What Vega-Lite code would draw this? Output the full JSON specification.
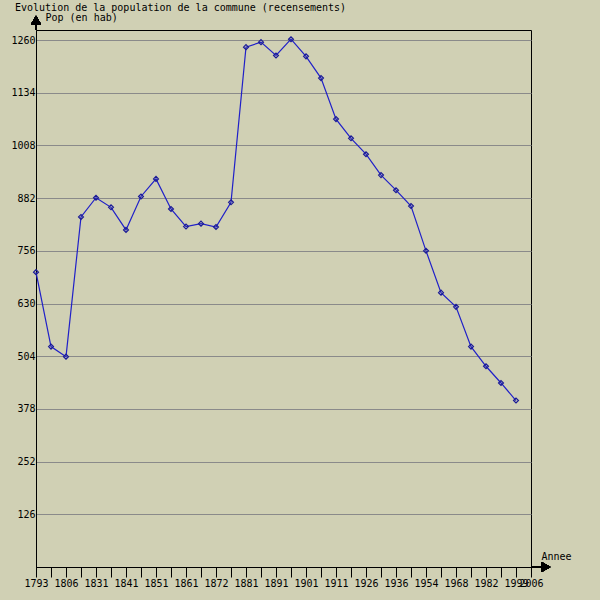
{
  "$schema": "https://vega.github.io/schema/vega-lite/v6.json",
  "autosize": {"type": "none"},
  "padding": {"left": 36, "top": 30, "right": 69, "bottom": 33},
  "width": 495,
  "height": 537,
  "background": "#D0D0B4",
  "title": {
    "text": "Evolution de la population de la commune (recensements)",
    "anchor": "start",
    "frame": "group",
    "dx": -21,
    "dy": 3,
    "offset": 2,
    "font": "DejaVu Sans Mono",
    "fontSize": 10,
    "fontWeight": "normal",
    "color": "#000000"
  },
  "data": {
    "values": [
      {"year": 1793, "pop": 705},
      {"year": 1800, "pop": 527},
      {"year": 1806, "pop": 503},
      {"year": 1821, "pop": 837},
      {"year": 1831, "pop": 883},
      {"year": 1836, "pop": 860},
      {"year": 1841, "pop": 806},
      {"year": 1846, "pop": 886},
      {"year": 1851, "pop": 928},
      {"year": 1856, "pop": 856},
      {"year": 1861, "pop": 814},
      {"year": 1866, "pop": 821},
      {"year": 1872, "pop": 813},
      {"year": 1876, "pop": 872},
      {"year": 1881, "pop": 1243},
      {"year": 1886, "pop": 1255},
      {"year": 1891, "pop": 1223},
      {"year": 1896, "pop": 1262},
      {"year": 1901, "pop": 1221},
      {"year": 1906, "pop": 1169},
      {"year": 1911, "pop": 1071},
      {"year": 1921, "pop": 1025},
      {"year": 1926, "pop": 987},
      {"year": 1931, "pop": 937},
      {"year": 1936, "pop": 901},
      {"year": 1946, "pop": 863},
      {"year": 1954, "pop": 756},
      {"year": 1962, "pop": 656},
      {"year": 1968, "pop": 622},
      {"year": 1975, "pop": 527},
      {"year": 1982, "pop": 480},
      {"year": 1990, "pop": 440},
      {"year": 1999, "pop": 398}
    ]
  },
  "layer": [
    {
      "mark": {
        "type": "line",
        "color": "#2020C8",
        "strokeWidth": 1.2,
        "point": {"shape": "diamond", "filled": false, "size": 24, "color": "#1A1A96", "strokeWidth": 1.2}
      },
      "encoding": {
        "x": {
          "field": "year",
          "type": "ordinal",
          "scale": {
            "type": "point",
            "padding": 0,
            "domain": [1793, 1800, 1806, 1821, 1831, 1836, 1841, 1846, 1851, 1856, 1861, 1866, 1872, 1876, 1881, 1886, 1891, 1896, 1901, 1906, 1911, 1921, 1926, 1931, 1936, 1946, 1954, 1962, 1968, 1975, 1982, 1990, 1999, 2006]
          },
          "axis": {
            "title": "Annee",
            "titleX": 505,
            "titleY": -11,
            "titleAlign": "left",
            "titleBaseline": "middle",
            "titleAngle": 0,
            "labelAngle": 0,
            "labelOverlap": false,
            "labelExpr": "indexof(['1793','1806','1831','1841','1851','1861','1872','1881','1891','1901','1911','1926','1936','1954','1968','1982','1999','2006'], datum.label) >= 0 ? datum.label : ''",
            "tickSize": 10,
            "labelPadding": 1,
            "grid": false
          }
        },
        "y": {
          "field": "pop",
          "type": "quantitative",
          "scale": {"domain": [0, 1284], "nice": false},
          "axis": {
            "title": "Pop (en hab)",
            "format": "d",
            "titleAngle": 0,
            "titleX": 9,
            "titleY": -13,
            "titleAlign": "left",
            "titleBaseline": "middle",
            "values": [126, 252, 378, 504, 630, 756, 882, 1008, 1134, 1260],
            "ticks": false,
            "labelPadding": 1,
            "grid": true,
            "gridColor": "#8A8A8A",
            "gridOpacity": 1
          }
        }
      }
    },
    {
      "mark": {"type": "rule", "color": "#000000", "clip": false},
      "encoding": {
        "x": {"datum": 1793, "type": "ordinal"},
        "y": {"datum": 1284, "type": "quantitative"},
        "y2": {"datum": 1300}
      }
    },
    {
      "mark": {"type": "point", "shape": "triangle-up", "size": 100, "filled": true, "color": "#000000", "opacity": 1, "clip": false},
      "encoding": {
        "x": {"datum": 1793, "type": "ordinal"},
        "y": {"datum": 1308, "type": "quantitative"}
      }
    },
    {
      "mark": {"type": "rule", "color": "#000000", "clip": false, "x2Offset": 11},
      "encoding": {
        "x": {"datum": 2006, "type": "ordinal"},
        "x2": {"datum": 2006},
        "y": {"datum": 0, "type": "quantitative"}
      }
    },
    {
      "mark": {"type": "point", "shape": "triangle-right", "size": 100, "filled": true, "color": "#000000", "opacity": 1, "clip": false, "xOffset": 15},
      "encoding": {
        "x": {"datum": 2006, "type": "ordinal"},
        "y": {"datum": 0, "type": "quantitative"}
      }
    }
  ],
  "config": {
    "font": "DejaVu Sans Mono",
    "view": {"stroke": "#000000", "strokeWidth": 1},
    "axis": {
      "domainColor": "#000000",
      "tickColor": "#000000",
      "labelColor": "#000000",
      "titleColor": "#000000",
      "labelFont": "DejaVu Sans Mono",
      "titleFont": "DejaVu Sans Mono",
      "labelFontSize": 10,
      "titleFontSize": 10,
      "titleFontWeight": "normal"
    }
  }
}
